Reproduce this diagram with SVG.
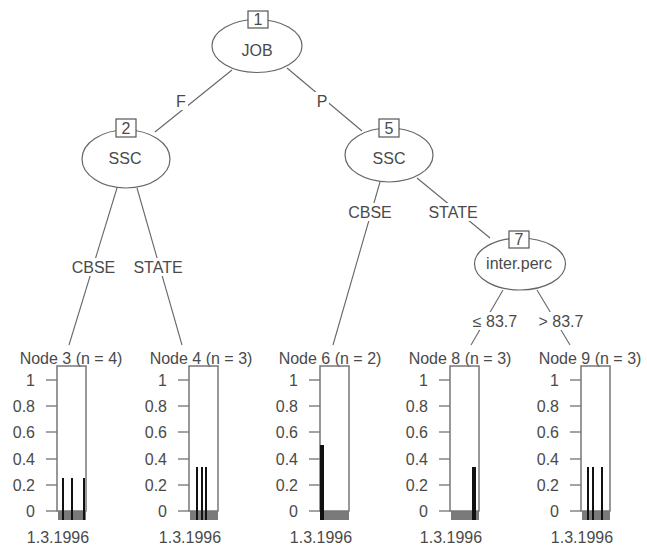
<svg xmlns="http://www.w3.org/2000/svg" width="647" height="548" viewBox="0 0 647 548">
<style>
text{font-family:"Liberation Sans",Arial,sans-serif;font-size:16px;fill:#4a4a4a}
.m{text-anchor:middle}
.r{text-anchor:end}
.el{fill:#fff;stroke:#666;stroke-width:1.2}
.bx{fill:#fff;stroke:#555;stroke-width:1.2}
.edge{stroke:#666;stroke-width:1.1;fill:none}
.frame{fill:none;stroke:#777;stroke-width:1.5}
.tick{stroke:#666;stroke-width:1.2}
.strip{fill:#7a7a7a}
.bar{fill:#111}
.lbg{fill:#fff}
</style>
<rect width="647" height="548" fill="#fff"/>
<g id="connectors">
<line class="edge" x1="232" y1="70" x2="155" y2="132"/>
<line class="edge" x1="287" y1="68" x2="362" y2="131"/>
<line class="edge" x1="117" y1="188" x2="69" y2="345"/>
<line class="edge" x1="137" y1="188" x2="182" y2="345"/>
<line class="edge" x1="380" y1="182" x2="333" y2="345"/>
<line class="edge" x1="417" y1="178" x2="490" y2="238"/>
<line class="edge" x1="503" y1="290" x2="471" y2="345"/>
<line class="edge" x1="537" y1="290" x2="570" y2="345"/>
<rect class="lbg" x="174" y="92" width="14" height="18"/>
<text class="m" x="181" y="107">F</text>
<rect class="lbg" x="315" y="92" width="14" height="18"/>
<text class="m" x="322" y="107">P</text>
<rect class="lbg" x="69" y="258" width="49" height="18"/>
<text class="m" x="93.5" y="273">CBSE</text>
<rect class="lbg" x="131" y="258" width="54" height="18"/>
<text class="m" x="158" y="273">STATE</text>
<rect class="lbg" x="346" y="203" width="48" height="18"/>
<text class="m" x="370" y="218">CBSE</text>
<rect class="lbg" x="426" y="203" width="54" height="18"/>
<text class="m" x="453" y="218">STATE</text>
<rect class="lbg" x="473" y="312" width="44" height="18"/>
<text class="m" x="495" y="327">≤ 83.7</text>
<rect class="lbg" x="537" y="312" width="48" height="18"/>
<text class="m" x="561" y="327">&gt; 83.7</text>
</g>
<g id="node1">
<ellipse class="el" cx="257" cy="46" rx="45" ry="26.5"/>
<rect class="bx" x="248" y="11" width="20" height="17"/>
<text class="m" x="258" y="25">1</text>
<text class="m" x="257" y="56">JOB</text>
</g>
<g id="node2">
<ellipse class="el" cx="126" cy="159" rx="44" ry="29"/>
<rect class="bx" x="116" y="119" width="20" height="18"/>
<text class="m" x="126" y="134">2</text>
<text class="m" x="125" y="164">SSC</text>
</g>
<g id="node5">
<ellipse class="el" cx="389" cy="155" rx="44" ry="27"/>
<rect class="bx" x="379" y="119" width="20" height="18"/>
<text class="m" x="389" y="134">5</text>
<text class="m" x="389" y="164">SSC</text>
</g>
<g id="node7">
<ellipse class="el" cx="520" cy="264" rx="45.5" ry="26"/>
<rect class="bx" x="509" y="231" width="20" height="17"/>
<text class="m" x="519" y="245">7</text>
<text class="m" x="519" y="269">inter.perc</text>
</g>
<defs>
<g id="axis">
<line class="tick" x1="-11" y1="380" x2="0" y2="380"/>
<line class="tick" x1="-11" y1="406" x2="0" y2="406"/>
<line class="tick" x1="-11" y1="432" x2="0" y2="432"/>
<line class="tick" x1="-11" y1="459" x2="0" y2="459"/>
<line class="tick" x1="-11" y1="485" x2="0" y2="485"/>
<line class="tick" x1="-11" y1="511" x2="0" y2="511"/>
<text class="r" x="-22" y="386">1</text>
<text class="r" x="-22" y="412">0.8</text>
<text class="r" x="-22" y="438">0.6</text>
<text class="r" x="-22" y="465">0.4</text>
<text class="r" x="-22" y="491">0.2</text>
<text class="r" x="-22" y="517">0</text>
<rect class="strip" x="1" y="511" width="28" height="9"/>
<rect class="frame" x="0" y="366" width="29" height="145"/>
<text class="m" x="1" y="543">1.3.1996</text>
</g>
</defs>
<g id="node3">
<text class="m" x="71" y="364">Node 3 (n = 4)</text>
<use href="#axis" x="57"/>
<rect class="bar" x="62" y="478" width="2" height="42"/>
<rect class="bar" x="71" y="478" width="2" height="42"/>
<rect class="bar" x="83" y="478" width="2" height="42"/>
</g>
<g id="node4">
<text class="m" x="201" y="364">Node 4 (n = 3)</text>
<use href="#axis" x="189"/>
<rect class="bar" x="196" y="467" width="2" height="53"/>
<rect class="bar" x="201" y="467" width="2" height="53"/>
<rect class="bar" x="205" y="467" width="2" height="53"/>
</g>
<g id="node6">
<text class="m" x="330" y="364">Node 6 (n = 2)</text>
<use href="#axis" x="320"/>
<rect class="bar" x="320" y="445" width="4" height="75"/>
</g>
<g id="node8">
<text class="m" x="460" y="364">Node 8 (n = 3)</text>
<use href="#axis" x="450"/>
<rect class="bar" x="472" y="467" width="4" height="53"/>
</g>
<g id="node9">
<text class="m" x="590" y="364">Node 9 (n = 3)</text>
<use href="#axis" x="581"/>
<rect class="bar" x="587" y="467" width="2" height="53"/>
<rect class="bar" x="592" y="467" width="2" height="53"/>
<rect class="bar" x="601" y="467" width="2" height="53"/>
</g>
</svg>
